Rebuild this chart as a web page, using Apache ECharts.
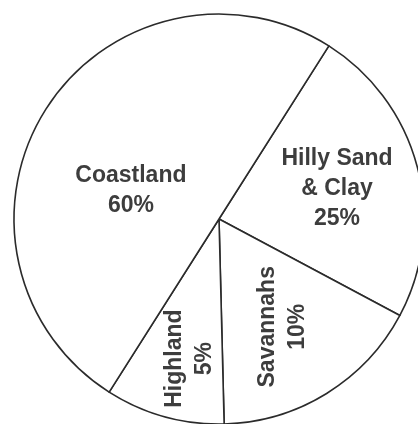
<!DOCTYPE html>
<html>
<head>
<meta charset="utf-8">
<script src="https://cdn.jsdelivr.net/npm/echarts@6/dist/echarts.min.js"></script>
<style>html,body{margin:0;padding:0;background:#fff;}#c{width:418px;height:424px;}</style>
</head>
<body>
<div id="c"></div>
<script>
// Categories in drawing order (clockwise from the upper-right boundary)
const categories = ['Hilly Sand\n& Clay', 'Savannahs', 'Highland', 'Coastland'];
// Percentages printed on the chart
const labelPercents = [25, 10, 5, 60];
// Slice shares as actually drawn in the picture (% of circle, measured from angles)
const sliceShares = [23.8, 16.8, 9.4, 50.0];

// label styling (not data): rotation and on-screen shift from default inside spot
const labelRotate = [0, 90, 90, 0];
const labelShift = [[16, -3], [8, 18], [-1, 38], [1, 28]];

const chart = echarts.init(document.getElementById('c'), null, {renderer: 'canvas'});
chart.setOption({
  animation: false,
  backgroundColor: '#ffffff',
  series: [{
    type: 'pie',
    center: [219, 219],
    radius: [0, 205],
    startAngle: 57.6,
    clockwise: true,
    silent: true,
    avoidLabelOverlap: false,
    emphasis: {disabled: true},
    itemStyle: {color: '#ffffff', borderColor: '#2b2b2b', borderWidth: 1.6},
    label: {
      show: true,
      position: 'inside',
      color: '#3d3d3d',
      fontFamily: 'Liberation Sans, Arial, sans-serif',
      fontWeight: 'bold',
      fontSize: 23,
      lineHeight: 30,
      align: 'center'
    },
    labelLine: {show: false},
    labelLayout: function (p) {
      const s = labelShift[p.dataIndex];
      const a = labelRotate[p.dataIndex] * Math.PI / 180;
      // convert screen shift into the label's rotated local frame
      const dx = s[0] * Math.cos(a) - s[1] * Math.sin(a);
      const dy = s[0] * Math.sin(a) + s[1] * Math.cos(a);
      return {dx: dx, dy: dy};
    },
    data: categories.map((name, i) => ({
      name: name,
      value: sliceShares[i],
      label: {
        rotate: labelRotate[i],
        formatter: name + '\n' + labelPercents[i] + '%'
      }
    }))
  }]
});
</script>
</body>
</html>
